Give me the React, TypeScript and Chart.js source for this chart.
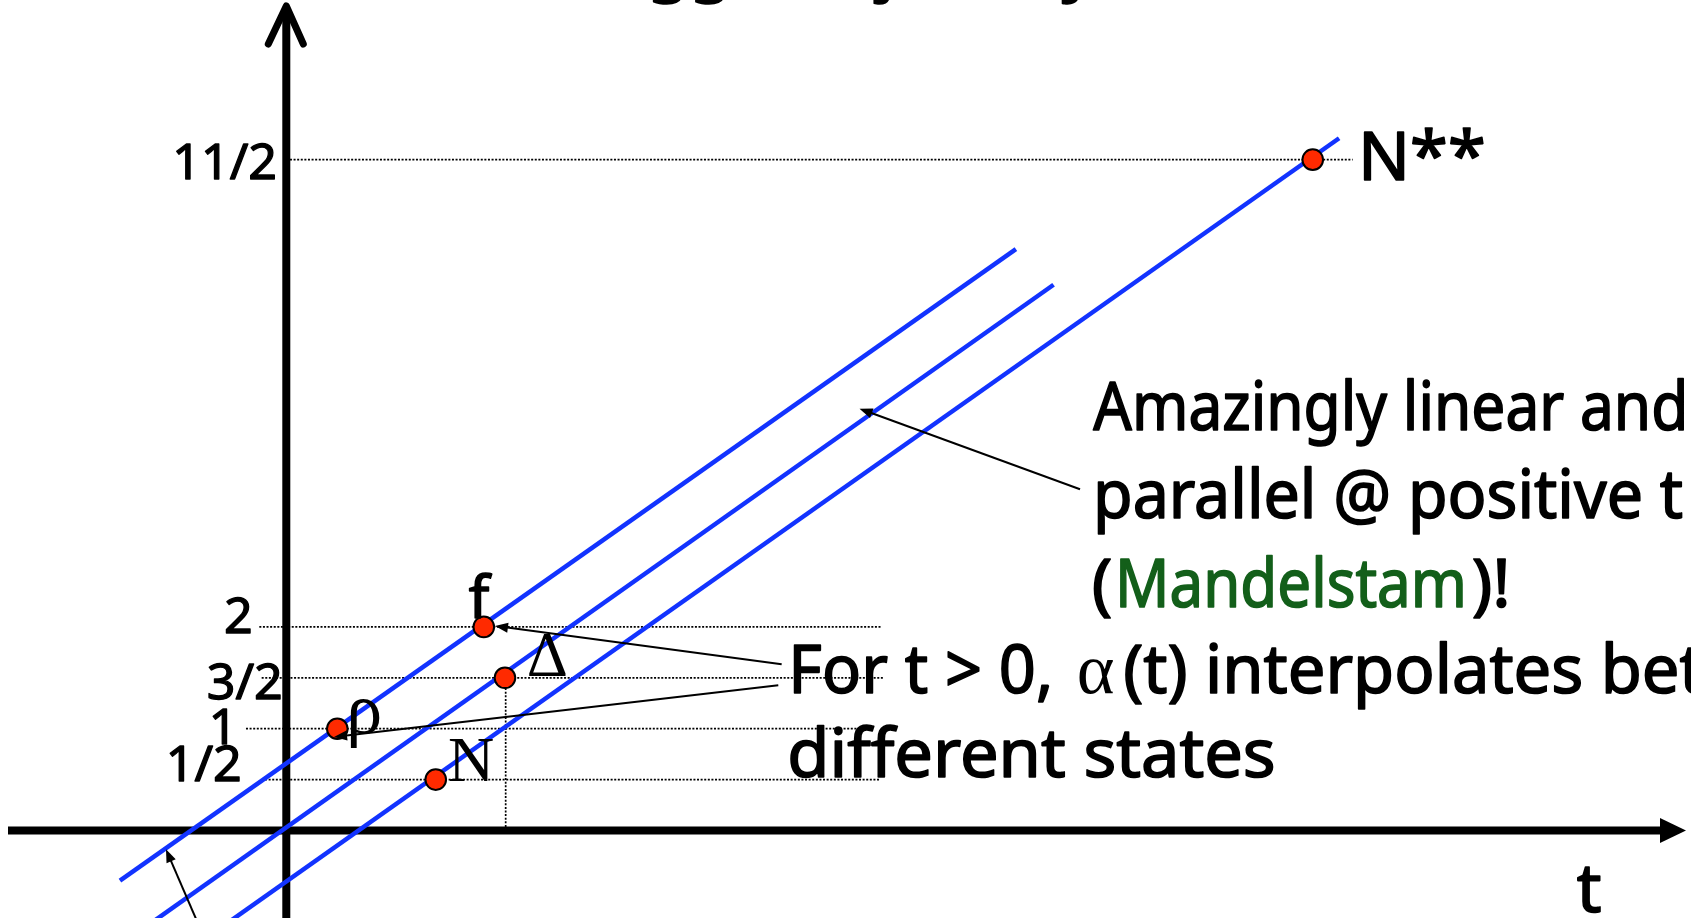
import React, { useEffect, useRef } from 'react';
import { Chart, registerables } from 'chart.js';

Chart.register(...registerables);

const W = 1691;
const H = 918;

// Schematic axis ranges (t horizontally, alpha(t) vertically)
const tRange = [-2.8124, 13.7988];
const alphaRange = [-0.8595, 8.1582];

// Three parallel Regge trajectories: start / end points
const trajectoryStartT = [-1.634, -1.4, -0.7];
const trajectoryStartAlpha = [-0.493, -0.96, -0.995];
const trajectoryEndT = [7.167, 7.537, 10.342];
const trajectoryEndAlpha = [5.711, 5.361, 6.8];

// States on the trajectories (the 11/2 level is drawn at its schematic height)
const stateNames = ['ρ', 'f', 'Δ', 'N', 'N**'];
const stateT = [0.501, 1.94, 2.148, 1.468, 10.083];
const stateAlpha = [1, 2, 1.5, 0.5, 6.59];

// Spin levels on the vertical axis and their dotted guide lines
const tickLabels = ['1/2', '1', '3/2', '2', '11/2'];
const tickAlpha = [0.5, 1, 1.5, 2, 6.59];
const guideFromT = [-0.209, -0.396, -0.242, -0.265, 0.036];
const guideToT = [5.832, 5.75, 5.861, 5.849, 10.475];
const dropT = [2.155];
const dropAlpha = [1.5];

// Pointer arrows (from -> to)
const arrowFromT = [7.797, 4.866, 4.833, -0.848];
const arrowFromAlpha = [3.352, 1.633, 1.426, -0.958];
const arrowToT = [5.631, 2.05, 0.469, -1.182];
const arrowToAlpha = [4.143, 2.009, 0.918, -0.185];

const SANS = '"Noto Sans", "Open Sans", sans-serif';
const SERIF = '"Liberation Serif", "DejaVu Serif", serif';
const BLUE = '#1233ff';
const RED = '#ff2a00';
const GREEN = '#135f1a';

const tickDx = [-44.6, -49, -3.6, -33.6, -9.3];
const tickDy = [1.4, 15.3, 21.2, 6.1, 19.4];

function drawText(ctx: CanvasRenderingContext2D, str: string, x: number, y: number, font: string, color: string, sx: number, align: CanvasTextAlign = 'left', stroke = 0) {
  ctx.save();
  ctx.font = font;
  ctx.fillStyle = color;
  ctx.strokeStyle = color;
  ctx.textBaseline = 'alphabetic';
  ctx.textAlign = align;
  ctx.lineJoin = 'round';
  ctx.translate(x, y);
  ctx.scale(sx, 1);
  ctx.fillText(str, 0, 0);
  if (stroke > 0) {
    ctx.lineWidth = stroke;
    ctx.strokeText(str, 0, 0);
  }
  ctx.restore();
}

function fitScale(ctx: CanvasRenderingContext2D, font: string, str: string, width: number) {
  ctx.save();
  ctx.font = font;
  const w = ctx.measureText(str).width;
  ctx.restore();
  return width / w;
}

const axesPlugin = {
  id: 'schematicAxes',
  beforeDatasetsDraw(chart: any) {
    const ctx: CanvasRenderingContext2D = chart.ctx;
    const x0 = chart.scales.x.getPixelForValue(0);
    const y0 = chart.scales.y.getPixelForValue(0);
    ctx.save();
    ctx.strokeStyle = '#000';
    ctx.fillStyle = '#000';
    ctx.lineWidth = 8;
    ctx.lineCap = 'butt';
    ctx.beginPath();
    ctx.moveTo(8, y0);
    ctx.lineTo(1664, y0);
    ctx.stroke();
    ctx.beginPath();
    ctx.moveTo(1660, y0 - 12.5);
    ctx.lineTo(1686, y0);
    ctx.lineTo(1660, y0 + 12.5);
    ctx.closePath();
    ctx.fill();
    ctx.beginPath();
    ctx.moveTo(x0, H);
    ctx.lineTo(x0, 9);
    ctx.stroke();
    ctx.lineWidth = 7;
    ctx.lineCap = 'round';
    ctx.lineJoin = 'round';
    ctx.beginPath();
    ctx.moveTo(x0 - 18, 44);
    ctx.lineTo(x0, 6);
    ctx.lineTo(x0 + 17, 44);
    ctx.stroke();
    ctx.restore();
  },
};

const annotationPlugin = {
  id: 'annotations',
  afterDatasetsDraw(chart: any) {
    const ctx: CanvasRenderingContext2D = chart.ctx;
    const xs = chart.scales.x;
    const ys = chart.scales.y;
    const x0 = xs.getPixelForValue(0);

    // arrows
    ctx.save();
    ctx.strokeStyle = '#000';
    ctx.fillStyle = '#000';
    ctx.lineWidth = 2;
    for (let i = 0; i < arrowFromT.length; i++) {
      const ax = xs.getPixelForValue(arrowFromT[i]);
      const ay = ys.getPixelForValue(arrowFromAlpha[i]);
      const bx = xs.getPixelForValue(arrowToT[i]);
      const by = ys.getPixelForValue(arrowToAlpha[i]);
      const ang = Math.atan2(by - ay, bx - ax);
      const len = 13;
      const hw = 5;
      ctx.beginPath();
      ctx.moveTo(ax, ay);
      ctx.lineTo(bx - Math.cos(ang) * len * 0.8, by - Math.sin(ang) * len * 0.8);
      ctx.stroke();
      ctx.beginPath();
      ctx.moveTo(bx, by);
      ctx.lineTo(bx - Math.cos(ang) * len - Math.sin(ang) * hw, by - Math.sin(ang) * len + Math.cos(ang) * hw);
      ctx.lineTo(bx - Math.cos(ang) * len + Math.sin(ang) * hw, by - Math.sin(ang) * len - Math.cos(ang) * hw);
      ctx.closePath();
      ctx.fill();
    }
    ctx.restore();

    const F67 = `67px ${SANS}`;
    const SW = 1.6;
    const sx = fitScale(ctx, F67, 'different states', 488.4);

    // cut-off title
    ctx.save();
    ctx.font = F67;
    const reW = ctx.measureText('Re').width * sx;
    const gDesc = ctx.measureText('g').actualBoundingBoxDescent || 16;
    ctx.restore();
    drawText(ctx, 'Regge trajectory', 647 - reW, 4 - gDesc, F67, '#000', sx, 'left', SW);

    // tick labels
    for (let i = 0; i < tickLabels.length; i++) {
      drawText(ctx, tickLabels[i], x0 + tickDx[i], ys.getPixelForValue(tickAlpha[i]) + tickDy[i], `49px ${SANS}`, '#000', sx, 'right', 1.3);
    }
    drawText(ctx, 't', 1576.7, 911.7, F67, '#000', sx, 'left', SW);

    // state labels
    const lbl: Record<string, [number, number]> = {};
    stateNames.forEach((n, i) => {
      lbl[n] = [xs.getPixelForValue(stateT[i]), ys.getPixelForValue(stateAlpha[i])];
    });
    drawText(ctx, stateNames[0], lbl['ρ'][0] + 9, lbl['ρ'][1] + 4, `72px ${SERIF}`, '#000', 1);
    drawText(ctx, stateNames[1], lbl['f'][0] - 15, lbl['f'][1] - 9, `58px ${SANS}`, '#000', sx, 'left', SW);
    drawText(ctx, stateNames[2], lbl['Δ'][0] + 21.7, lbl['Δ'][1] - 2, `64px ${SERIF}`, '#000', 1);
    drawText(ctx, stateNames[3], lbl['N'][0] + 12.3, lbl['N'][1] + 1, `64px ${SERIF}`, '#000', 1);
    drawText(ctx, stateNames[4], lbl['N**'][0] + 45.3, lbl['N**'][1] + 20.4, F67, '#000', sx, 'left', SW);

    // explanatory text, each run fitted to its width in the reference
    drawText(ctx, 'Amazingly linear and', 1093.3, 430, F67, '#000', fitScale(ctx, F67, 'Amazingly linear and', 595), 'left', SW);
    drawText(ctx, 'parallel @ positive t', 1093, 518.3, F67, '#000', fitScale(ctx, F67, 'parallel @ positive t', 590), 'left', SW);
    drawText(ctx, '(', 1091.7, 606.7, F67, '#000', sx, 'left', SW);
    drawText(ctx, 'Mandelstam', 1115, 606.7, F67, GREEN, fitScale(ctx, F67, 'Mandelstam', 352), 'left', SW);
    drawText(ctx, ')!', 1471.7, 606.7, F67, '#000', sx, 'left', SW);
    drawText(ctx, 'For t > 0,', 788.3, 693.3, F67, '#000', fitScale(ctx, F67, 'For t > 0,', 265), 'left', SW);
    drawText(ctx, 'α', 1076.7, 693.3, `72px ${SERIF}`, '#000', 1);
    drawText(ctx, '(t) interpolates between', 1123.3, 693.3, F67, '#000', fitScale(ctx, F67, '(t) interpolates', 460), 'left', SW);
    drawText(ctx, 'different states', 787.3, 776.7, F67, '#000', sx, 'left', SW);
  },
};

export default function App() {
  const ref = useRef<HTMLCanvasElement | null>(null);

  useEffect(() => {
    if (!ref.current) return;
    const trajectories = trajectoryStartT.map((t0, i) => ({
      label: `trajectory ${i + 1}`,
      data: [
        { x: t0, y: trajectoryStartAlpha[i] },
        { x: trajectoryEndT[i], y: trajectoryEndAlpha[i] },
      ],
      showLine: true,
      borderColor: BLUE,
      borderWidth: 4.5,
      pointRadius: 0,
      tension: 0,
      order: 1,
    }));
    const guides = tickAlpha.map((a, i) => ({
      label: `guide ${tickLabels[i]}`,
      data: [
        { x: guideFromT[i], y: a },
        { x: guideToT[i], y: a },
      ],
      showLine: true,
      borderColor: '#000',
      borderWidth: 1.7,
      borderDash: [2, 1.6],
      pointRadius: 0,
      order: 2,
    }));
    const drop = {
      label: 'drop',
      data: [
        { x: dropT[0], y: 0 },
        { x: dropT[0], y: dropAlpha[0] },
      ],
      showLine: true,
      borderColor: '#000',
      borderWidth: 1.7,
      borderDash: [2, 1.6],
      pointRadius: 0,
      order: 2,
    };
    const states = {
      label: 'states',
      data: stateT.map((t, i) => ({ x: t, y: stateAlpha[i] })),
      showLine: false,
      pointRadius: 10.3,
      pointBackgroundColor: RED,
      pointBorderColor: '#000',
      pointBorderWidth: 2,
      order: 0,
    };
    const chart = new Chart(ref.current, {
      type: 'scatter',
      data: { datasets: [states, ...trajectories, ...guides, drop] as any },
      options: {
        responsive: false,
        maintainAspectRatio: false,
        animation: false,
        events: [],
        layout: { padding: 0, autoPadding: false },
        plugins: { legend: { display: false }, tooltip: { enabled: false } },
        scales: {
          x: { type: 'linear', min: tRange[0], max: tRange[1], display: false },
          y: { type: 'linear', min: alphaRange[0], max: alphaRange[1], display: false },
        },
      },
      plugins: [axesPlugin, annotationPlugin],
    });
    return () => chart.destroy();
  }, []);

  return (
    <div style={{ position: 'fixed', left: 0, top: 0, width: W, height: H, background: '#fff' }}>
      <canvas ref={ref} width={W} height={H} style={{ display: 'block', width: W, height: H }} />
    </div>
  );
}
